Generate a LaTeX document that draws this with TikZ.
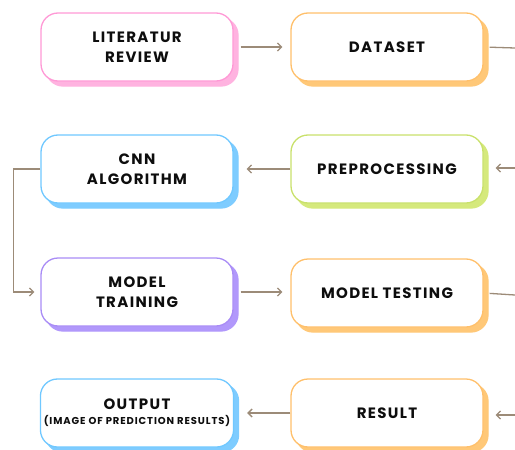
\documentclass[tikz,border=0pt]{standalone}
\usepackage{fontspec}
\setmainfont{Poppins}
\newfontfamily\boxfont{Poppins}[LetterSpace=9]
\usepackage{tikz}
\usetikzlibrary{arrows.meta,shadows}				%TikZ Libraries
\usepackage{xcolor}
\definecolor{pinkline}{HTML}{FF99D6}
\definecolor{pinkfill}{HTML}{FFB3E0}
\definecolor{orangeline}{HTML}{FFC06B}
\definecolor{orangefill}{HTML}{FFC878}
\definecolor{blueline}{HTML}{70C8FF}
\definecolor{bluefill}{HTML}{7ECCFF}
\definecolor{greenline}{HTML}{C9E16B}
\definecolor{greenfill}{HTML}{D5E97C}
\definecolor{purpleline}{HTML}{A98CF6}
\definecolor{purplefill}{HTML}{B198FB}
\definecolor{arrowbrown}{HTML}{9C8B78}
\tikzset{
	box/.style 2 args={draw=#1, fill=white, line width=1.3pt, rounded corners=17pt,
		minimum width=192pt, minimum height=68pt, align=center, text=black!95,
		font=\boxfont\bfseries\fontsize{15}{20}\selectfont,
		general shadow={fill=#2, draw=#2, shadow xshift=5pt, shadow yshift=-5pt}},
	flow/.style={draw=arrowbrown, line width=1.3pt, -{Straight Barb[length=4pt,width=8pt]}},
	link/.style={draw=arrowbrown, line width=1.3pt}
}

\begin{document}
\begin{tikzpicture}[x=1pt,y=-1pt]
		\useasboundingbox (0,0) rectangle (515,450);
		\node[box={pinkline}{pinkfill}] (lit) at (137,47) {LITERATUR\\REVIEW};
		\node[box={orangeline}{orangefill}] (data) at (387,47) {DATASET};
		\node[box={blueline}{bluefill}] (cnn) at (137,169) {CNN\\ALGORITHM};
		\node[box={greenline}{greenfill}] (prep) at (387,169) {PREPROCESSING};
		\node[box={purpleline}{purplefill}] (train) at (137,292) {MODEL\\TRAINING};
		\node[box={orangeline}{orangefill}] (test) at (387,293) {MODEL TESTING};
		\node[box={blueline}{bluefill}] (out) at (137,413)
		{OUTPUT\\[-5pt]{\fontsize{10}{10}\selectfont(IMAGE OF PREDICTION RESULTS)}};
		\node[box={orangeline}{orangefill}] (res) at (387,413) {RESULT};
		\coordinate (edgeA) at (515,48);
		\coordinate (edgeB) at (515,168);
		\coordinate (edgeC) at (515,295);
		\coordinate (edgeD) at (515,415);
		\draw[flow, shorten <=7pt, shorten >=8pt] (lit.east) -- (data.west);
		\draw[link, shorten <=6pt] (data.east) -- (edgeA);
		\draw[flow, shorten >=12pt] (edgeB) -- (prep.east |- edgeB);
		\draw[flow, shorten >=13pt] (prep.west) -- (cnn.east);
		\draw[flow, shorten >=6pt] (cnn.west) -- ++(-27,0) |- (train.west);
		\draw[flow, shorten <=7pt, shorten >=8pt] (train.east) -- (test.west |- train.east);
		\draw[link, shorten <=6pt] (test.east) -- (edgeC);
		\draw[flow, shorten >=12pt] (edgeD) -- (res.east |- edgeD);
		\draw[flow, shorten >=13pt] (res.west) -- (out.east);
		\end{tikzpicture}
\end{document}
